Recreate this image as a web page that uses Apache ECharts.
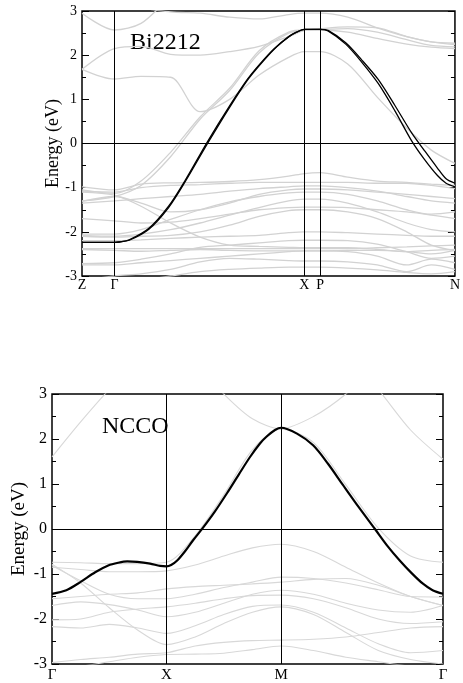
<!DOCTYPE html>
<html><head><meta charset="utf-8">
<script src="https://cdn.jsdelivr.net/npm/echarts@6/dist/echarts.min.js"></script>
<style>html,body{margin:0;padding:0;background:#fff}#c{width:463px;height:683px}</style>
</head><body><div id="c"></div>
<script>
// ---------- Bi2212 (top panel) ----------
const kTop = [0, 33, 60, 90, 120, 150, 180, 210, 226, 242, 270, 300, 330, 355, 379];
const topTickPos = [0, 33, 226, 242, 379];
const topTickNames = ['Z', 'Γ', 'X', 'P', 'N'];
const topVLines = [33, 226, 242];
const kTopBlack = [0,33,38,48,68,88,105,127,150,168,180,195,210,218,226,242,250,268,284,301,318,335,348,361,370,379];
const biBlack1 = [-2.24,-2.24,-2.23,-2.18,-1.92,-1.42,-0.83,0.02,0.85,1.45,1.78,2.14,2.42,2.52,2.585,2.585,2.55,2.25,1.85,1.36,0.74,0.06,-0.36,-0.72,-0.90,-0.98];
const biBlack2 = [-2.24,-2.24,-2.23,-2.19,-1.94,-1.45,-0.86,-0.02,0.82,1.43,1.76,2.13,2.41,2.52,2.585,2.585,2.56,2.28,1.90,1.45,0.86,0.24,-0.16,-0.55,-0.80,-0.90];
const biGray = [
  [2.95,2.57,2.72,3.3,3.6,3.6,3.6,3.6,3.6,3.6,3.6,3.6,3.6,3.6,3.6],
  [3.6,3.6,3.1,2.98,2.95,2.86,2.82,2.92,2.95,2.95,2.86,2.62,2.42,2.30,2.27],
  [1.68,2.15,2.20,2.02,2.00,2.08,2.20,2.42,2.56,2.60,2.64,2.62,2.42,2.30,2.24],
  [1.68,1.46,1.52,1.50,0.72,1.00,1.55,1.95,2.08,2.08,1.80,1.05,0.35,-0.15,-0.45],
  [-1.05,-1.13,-0.85,-0.20,0.60,1.25,2.10,2.52,2.57,2.57,2.52,2.38,2.25,2.18,2.15],
  [-1.30,-1.20,-0.95,-0.30,0.55,1.20,2.05,2.50,2.56,2.58,2.60,2.52,2.35,2.22,2.19],
  [-0.98,-1.05,-0.92,-0.89,-0.88,-0.86,-0.82,-0.74,-0.68,-0.66,-0.76,-0.85,-0.88,-0.92,-0.95],
  [-1.08,-1.10,-1.00,-0.95,-0.93,-0.90,-0.88,-0.88,-0.88,-0.88,-0.88,-0.90,-0.90,-0.95,-1.02],
  [-1.10,-1.17,-1.42,-1.80,-2.12,-2.30,-2.33,-2.35,-2.36,-2.36,-2.36,-2.40,-2.45,-2.42,-2.40],
  [-1.31,-1.20,-1.35,-1.55,-1.50,-1.35,-1.15,-1.05,-1.03,-1.03,-1.05,-1.10,-1.15,-1.20,-1.25],
  [-2.05,-2.05,-1.95,-1.72,-1.50,-1.32,-1.20,-1.12,-1.10,-1.10,-1.15,-1.30,-1.50,-1.60,-1.55],
  [-2.08,-2.10,-2.05,-1.95,-1.80,-1.62,-1.45,-1.30,-1.26,-1.26,-1.35,-1.55,-1.80,-1.95,-2.00],
  [-2.10,-2.12,-2.10,-2.08,-2.00,-1.85,-1.65,-1.52,-1.50,-1.50,-1.55,-1.70,-2.00,-2.30,-2.42],
  [-2.20,-2.20,-2.18,-2.15,-2.12,-2.10,-2.08,-2.02,-2.00,-2.00,-2.02,-2.05,-2.08,-2.10,-2.10],
  [-2.38,-2.38,-2.38,-2.38,-2.38,-2.38,-2.38,-2.38,-2.38,-2.38,-2.38,-2.36,-2.34,-2.32,-2.30],
  [-2.40,-2.42,-2.44,-2.42,-2.40,-2.42,-2.43,-2.43,-2.43,-2.43,-2.42,-2.42,-2.45,-2.50,-2.42],
  [-2.72,-2.70,-2.62,-2.50,-2.35,-2.30,-2.25,-2.20,-2.19,-2.19,-2.20,-2.28,-2.45,-2.60,-2.55],
  [-2.75,-2.75,-2.70,-2.65,-2.60,-2.55,-2.50,-2.45,-2.43,-2.43,-2.45,-2.55,-2.75,-2.62,-2.70],
  [-3.10,-3.00,-2.95,-2.85,-2.68,-2.60,-2.62,-2.65,-2.66,-2.66,-2.68,-2.75,-2.90,-2.75,-2.85],
  [-3.30,-3.20,-3.10,-3.00,-2.90,-2.85,-2.82,-2.80,-2.80,-2.80,-2.82,-2.86,-2.92,-2.95,-2.90],
  [-1.35,-1.30,-1.25,-1.20,-1.15,-1.08,-1.02,-0.98,-0.96,-0.96,-1.00,-1.08,-1.20,-1.30,-1.35],
  [-1.70,-1.75,-1.80,-1.78,-1.70,-1.60,-1.50,-1.45,-1.44,-1.44,-1.45,-1.50,-1.55,-1.62,-1.70]
];

// ---------- NCCO (bottom panel) ----------
const kBot = [0, 0.25, 0.5, 0.75, 1, 1.25, 1.5, 1.75, 2, 2.283, 2.566, 2.849, 3.131, 3.414];
const botTickPos = [0, 1, 2, 3.414];
const botTickNames = ['Γ', 'X', 'M', 'Γ'];
const botVLines = [1, 2];
const kBotBlack = [0,0.125,0.247,0.377,0.491,0.578,0.657,0.744,0.857,0.944,1.0,1.04,1.093,1.16,1.232,1.319,1.42,1.529,1.633,1.729,1.816,1.877,1.947,2.0,2.139,2.28,2.41,2.54,2.68,2.82,2.93,3.036,3.14,3.236,3.323,3.414];
const nccoBlack = [-1.44,-1.36,-1.18,-0.96,-0.81,-0.75,-0.72,-0.73,-0.77,-0.82,-0.83,-0.80,-0.70,-0.50,-0.25,0.03,0.38,0.80,1.22,1.60,1.90,2.06,2.20,2.25,2.12,1.86,1.45,0.98,0.48,0.0,-0.38,-0.70,-0.98,-1.21,-1.36,-1.44];
const nccoGray = [
  [1.60,2.38,3.10,3.70,null,null,null,null,null,null,null,null,null,null],
  [null,null,null,null,null,3.70,3.00,2.45,2.23,2.50,3.00,3.70,null,null],
  [null,null,null,null,null,null,null,null,null,null,3.90,3.10,2.20,1.55],
  [-0.74,-0.75,-0.77,-0.77,-0.74,-0.15,0.76,1.76,2.22,1.92,0.98,0.02,-0.60,-0.74],
  [-0.81,-1.15,-1.45,-1.55,-1.55,-1.45,-1.30,-1.18,-1.07,-1.10,-1.20,-1.35,-1.50,-1.51],
  [-1.55,-1.50,-1.45,-1.42,-1.33,-1.28,-1.25,-1.22,-1.18,-1.12,-1.10,-1.25,-1.50,-1.70],
  [-1.70,-1.62,-1.68,-1.80,-1.95,-1.85,-1.65,-1.45,-1.36,-1.45,-1.65,-1.80,-1.85,-1.70],
  [-2.02,-2.00,-1.85,-1.78,-1.73,-1.65,-1.55,-1.48,-1.47,-1.55,-1.75,-2.00,-2.10,-2.06],
  [-2.17,-2.20,-2.12,-2.20,-2.32,-2.15,-1.90,-1.72,-1.69,-1.85,-2.20,-2.55,-2.75,-2.70],
  [-0.78,-1.20,-1.75,-2.25,-2.57,-2.40,-2.10,-1.85,-1.73,-1.90,-2.30,-2.70,-2.90,-3.00],
  [-2.97,-2.90,-2.85,-2.78,-2.75,-2.60,-2.52,-2.48,-2.47,-2.45,-2.40,-2.30,-2.20,-2.17],
  [-3.10,-3.05,-2.95,-2.85,-2.79,-2.78,-2.76,-2.68,-2.60,-2.70,-2.85,-2.95,-3.05,-3.10],
  [-0.85,-0.90,-0.95,-0.95,-0.93,-0.80,-0.60,-0.42,-0.34,-0.50,-0.85,-1.20,-1.50,-1.70]
];

const SERIF = '"Liberation Serif", "DejaVu Serif", serif';
const GRAY_TOP = '#d2d2d2';
const GRAY_BOT = '#d8d8d8';

function pairs(ks, vs) { return ks.map((k, i) => [k, vs[i]]); }

function yAxes(gi, nameGap, fs, nfs) {
  const common = {
    gridIndex: gi, type: 'value', min: -3, max: 3, interval: 1,
    axisLine: { show: false }, splitLine: { show: false },
    axisTick: { show: true, inside: true, length: 7, lineStyle: { color: '#000', width: 1 } },
    minorTick: { show: true, splitNumber: 2, length: 4, lineStyle: { color: '#000', width: 1 } }
  };
  return [
    Object.assign({}, common, {
      position: 'left', name: 'Energy (eV)', nameLocation: 'middle', nameGap: nameGap, nameMoveOverlap: false,
      nameTextStyle: { fontFamily: SERIF, fontSize: nfs, color: '#000' },
      axisLabel: { fontFamily: SERIF, fontSize: fs, color: '#000', margin: 5 }
    }),
    Object.assign({}, common, { position: 'right', axisLabel: { show: false } })
  ];
}

function xAxis(gi, max, pos, names, fs, margin) {
  return {
    gridIndex: gi, type: 'value', min: 0, max: max,
    axisLine: { show: false }, axisTick: { show: false }, splitLine: { show: false },
    axisLabel: {
      customValues: pos, fontFamily: SERIF, fontSize: fs, color: '#000', margin: margin,
      formatter: v => { const i = pos.findIndex(p => Math.abs(p - v) < 1e-6); return i >= 0 ? names[i] : ''; }
    }
  };
}

const series = [];
function markLines(vl) {
  return {
    silent: true, symbol: ['none', 'none'], label: { show: false }, animation: false,
    lineStyle: { color: '#000', width: 1, type: 'solid' },
    data: vl.map(v => ({ xAxis: v })).concat([{ yAxis: 0 }])
  };
}
function line(xi, yi, ks, vs, color, width, z, ml) {
  return {
    type: 'line', xAxisIndex: xi, yAxisIndex: yi, data: pairs(ks, vs), showSymbol: false,
    smooth: 0.3, lineStyle: { color: color, width: width }, silent: true, z: z,
    markLine: ml
  };
}
biGray.forEach((b, i) => series.push(line(0, 0, kTop, b, GRAY_TOP, 1.3, 2, i === 0 ? markLines(topVLines) : undefined)));
series.push(line(0, 0, kTopBlack, biBlack1, '#000', 1.3, 4));
series.push(line(0, 0, kTopBlack, biBlack2, '#000', 1.3, 4));
nccoGray.forEach((b, i) => series.push(line(1, 2, kBot, b, GRAY_BOT, 1.1, 2, i === 0 ? markLines(botVLines) : undefined)));
series.push(line(1, 2, kBotBlack, nccoBlack, '#000', 2.2, 4));

const chart = echarts.init(document.getElementById('c'), null, { renderer: 'canvas' });
chart.setOption({
  animation: false,
  backgroundColor: '#fff',
  grid: [
    { left: 82, top: 11, width: 379, height: 265, show: true, borderColor: '#000', borderWidth: 1.5, backgroundColor: 'transparent' },
    { left: 52, top: 394, width: 391, height: 273, show: true, borderColor: '#000', borderWidth: 1.5, backgroundColor: 'transparent' }
  ],
  xAxis: [xAxis(0, 379, topTickPos, topTickNames, 14, 2), xAxis(1, 3.414, botTickPos, botTickNames, 15, 4)],
  yAxis: yAxes(0, 20, 14, 18).concat(yAxes(1, 23, 16, 19)),
  graphic: [
    { type: 'text', left: 130, top: 31, style: { text: 'Bi2212', font: '24px ' + SERIF, fill: '#000' } },
    { type: 'text', left: 102, top: 415, style: { text: 'NCCO', font: '24px ' + SERIF, fill: '#000' } }
  ],
  series: series
});
</script></body></html>
